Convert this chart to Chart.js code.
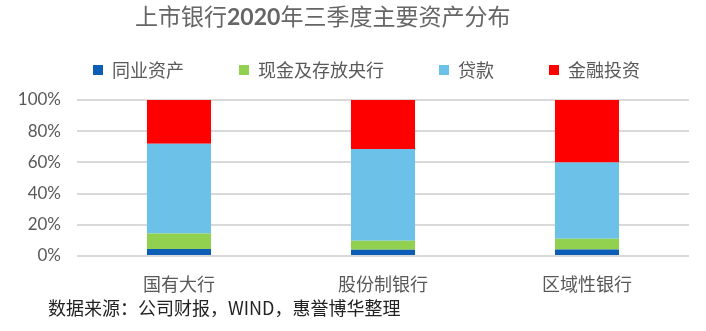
<!DOCTYPE html>
<html>
<head>
<meta charset="utf-8">
<script src="https://cdn.jsdelivr.net/npm/chart.js@4/dist/chart.umd.min.js"></script>
<style>
  html, body { margin: 0; padding: 0; background: #fff; }
  #wrap { position: relative; width: 706px; height: 331px; overflow: hidden; }
  #bd-chart { position: absolute; left: 0; top: 0; }
  #title { position: absolute; left: 135px; top: 2px; font: 23px/28px Lato, "Noto Sans CJK SC", sans-serif; color: #666; white-space: nowrap; }
  #title b { font-weight: bold; }
  #source { position: absolute; left: 48px; top: 296px; font: 18px/22px "Noto Sans CJK SC", sans-serif; color: #222; white-space: nowrap; }
</style>
</head>
<body>
<div id="wrap">
  <canvas id="bd-chart" width="706" height="331"></canvas>
  <div id="title">上市银行<b>2020</b>年三季度主要资产分布</div>
  <div id="source">数据来源：公司财报，WIND，惠誉博华整理</div>
</div>
<script>
// values, in percent of total assets
const categories = ['国有大行', '股份制银行', '区域性银行'];
const seriesNames = ['同业资产', '现金及存放央行', '贷款', '金融投资'];
const interbank = [4.5, 4.0, 4.2];
const cashCentralBank = [10.0, 5.8, 6.8];
const loans = [57.5, 58.8, 49.0];
const investments = [28.0, 31.4, 40.0];
const yTickLabels = ['0%', '20%', '40%', '60%', '80%', '100%'];

const colors = ['#0B5DB5', '#92D050', '#6CC1E9', '#FF0000'];
const cjk = '"Noto Sans CJK SC", sans-serif';
const grey = '#595959';

const seriesData = [interbank, cashCentralBank, loans, investments];

function makeDataset(i) {
  return {
    label: seriesNames[i],
    data: seriesData[i],
    backgroundColor: colors[i],
    borderWidth: 0,
    xAxisID: 'x',
    yAxisID: 'y',
    categoryPercentage: 1,
    barPercentage: 0.314
  };
}

// the legend in the original sits a bit right of the canvas edge,
// move its box after layout so the row starts where it should
const legendLeft = 38;
const legendOffset = {
  id: 'legendOffset',
  afterLayout(chart) {
    const lg = chart.legend;
    if (!lg) return;
    const dx = legendLeft - lg.left;
    lg.left += dx;
    lg.right += dx;
  }
};

new Chart(document.getElementById('bd-chart'), {
  type: 'bar',
  data: {
    labels: categories,
    datasets: seriesNames.map((_, i) => makeDataset(i))
  },
  plugins: [legendOffset],
  options: {
    responsive: false,
    animation: false,
    layout: { padding: { left: 15, right: 17, top: 6, bottom: 19.4 } },
    plugins: {
      title: { display: false },
      tooltip: { enabled: false },
      legend: {
        position: 'top',
        align: 'start',
        labels: {
          boxWidth: 10,
          boxHeight: 10,
          padding: 55,
          color: grey,
          font: { family: cjk, size: 18 }
        }
      }
    },
    scales: {
      x: {
        stacked: true,
        grid: { display: false, drawTicks: false },
        border: { display: false },
        ticks: { color: grey, padding: 17, font: { family: cjk, size: 18 } }
      },
      // empty band between the legend and the plot
      spacer: {
        type: 'category',
        position: 'top',
        grid: { display: false, drawTicks: false },
        border: { display: false },
        ticks: { display: false },
        afterFit(s) { s.height = 11; }
      },
      y: {
        stacked: true,
        min: 0,
        max: 100,
        afterFit(s) { s.width = 62; },
        grid: { color: '#D9D9D9', lineWidth: 2, drawTicks: false },
        border: { display: false },
        ticks: {
          stepSize: 20,
          color: grey,
          padding: 16,
          font: { family: 'Lato, ' + cjk, size: 17 },
          callback: (v, i) => yTickLabels[i]
        }
      }
    }
  }
});
</script>
</body>
</html>
